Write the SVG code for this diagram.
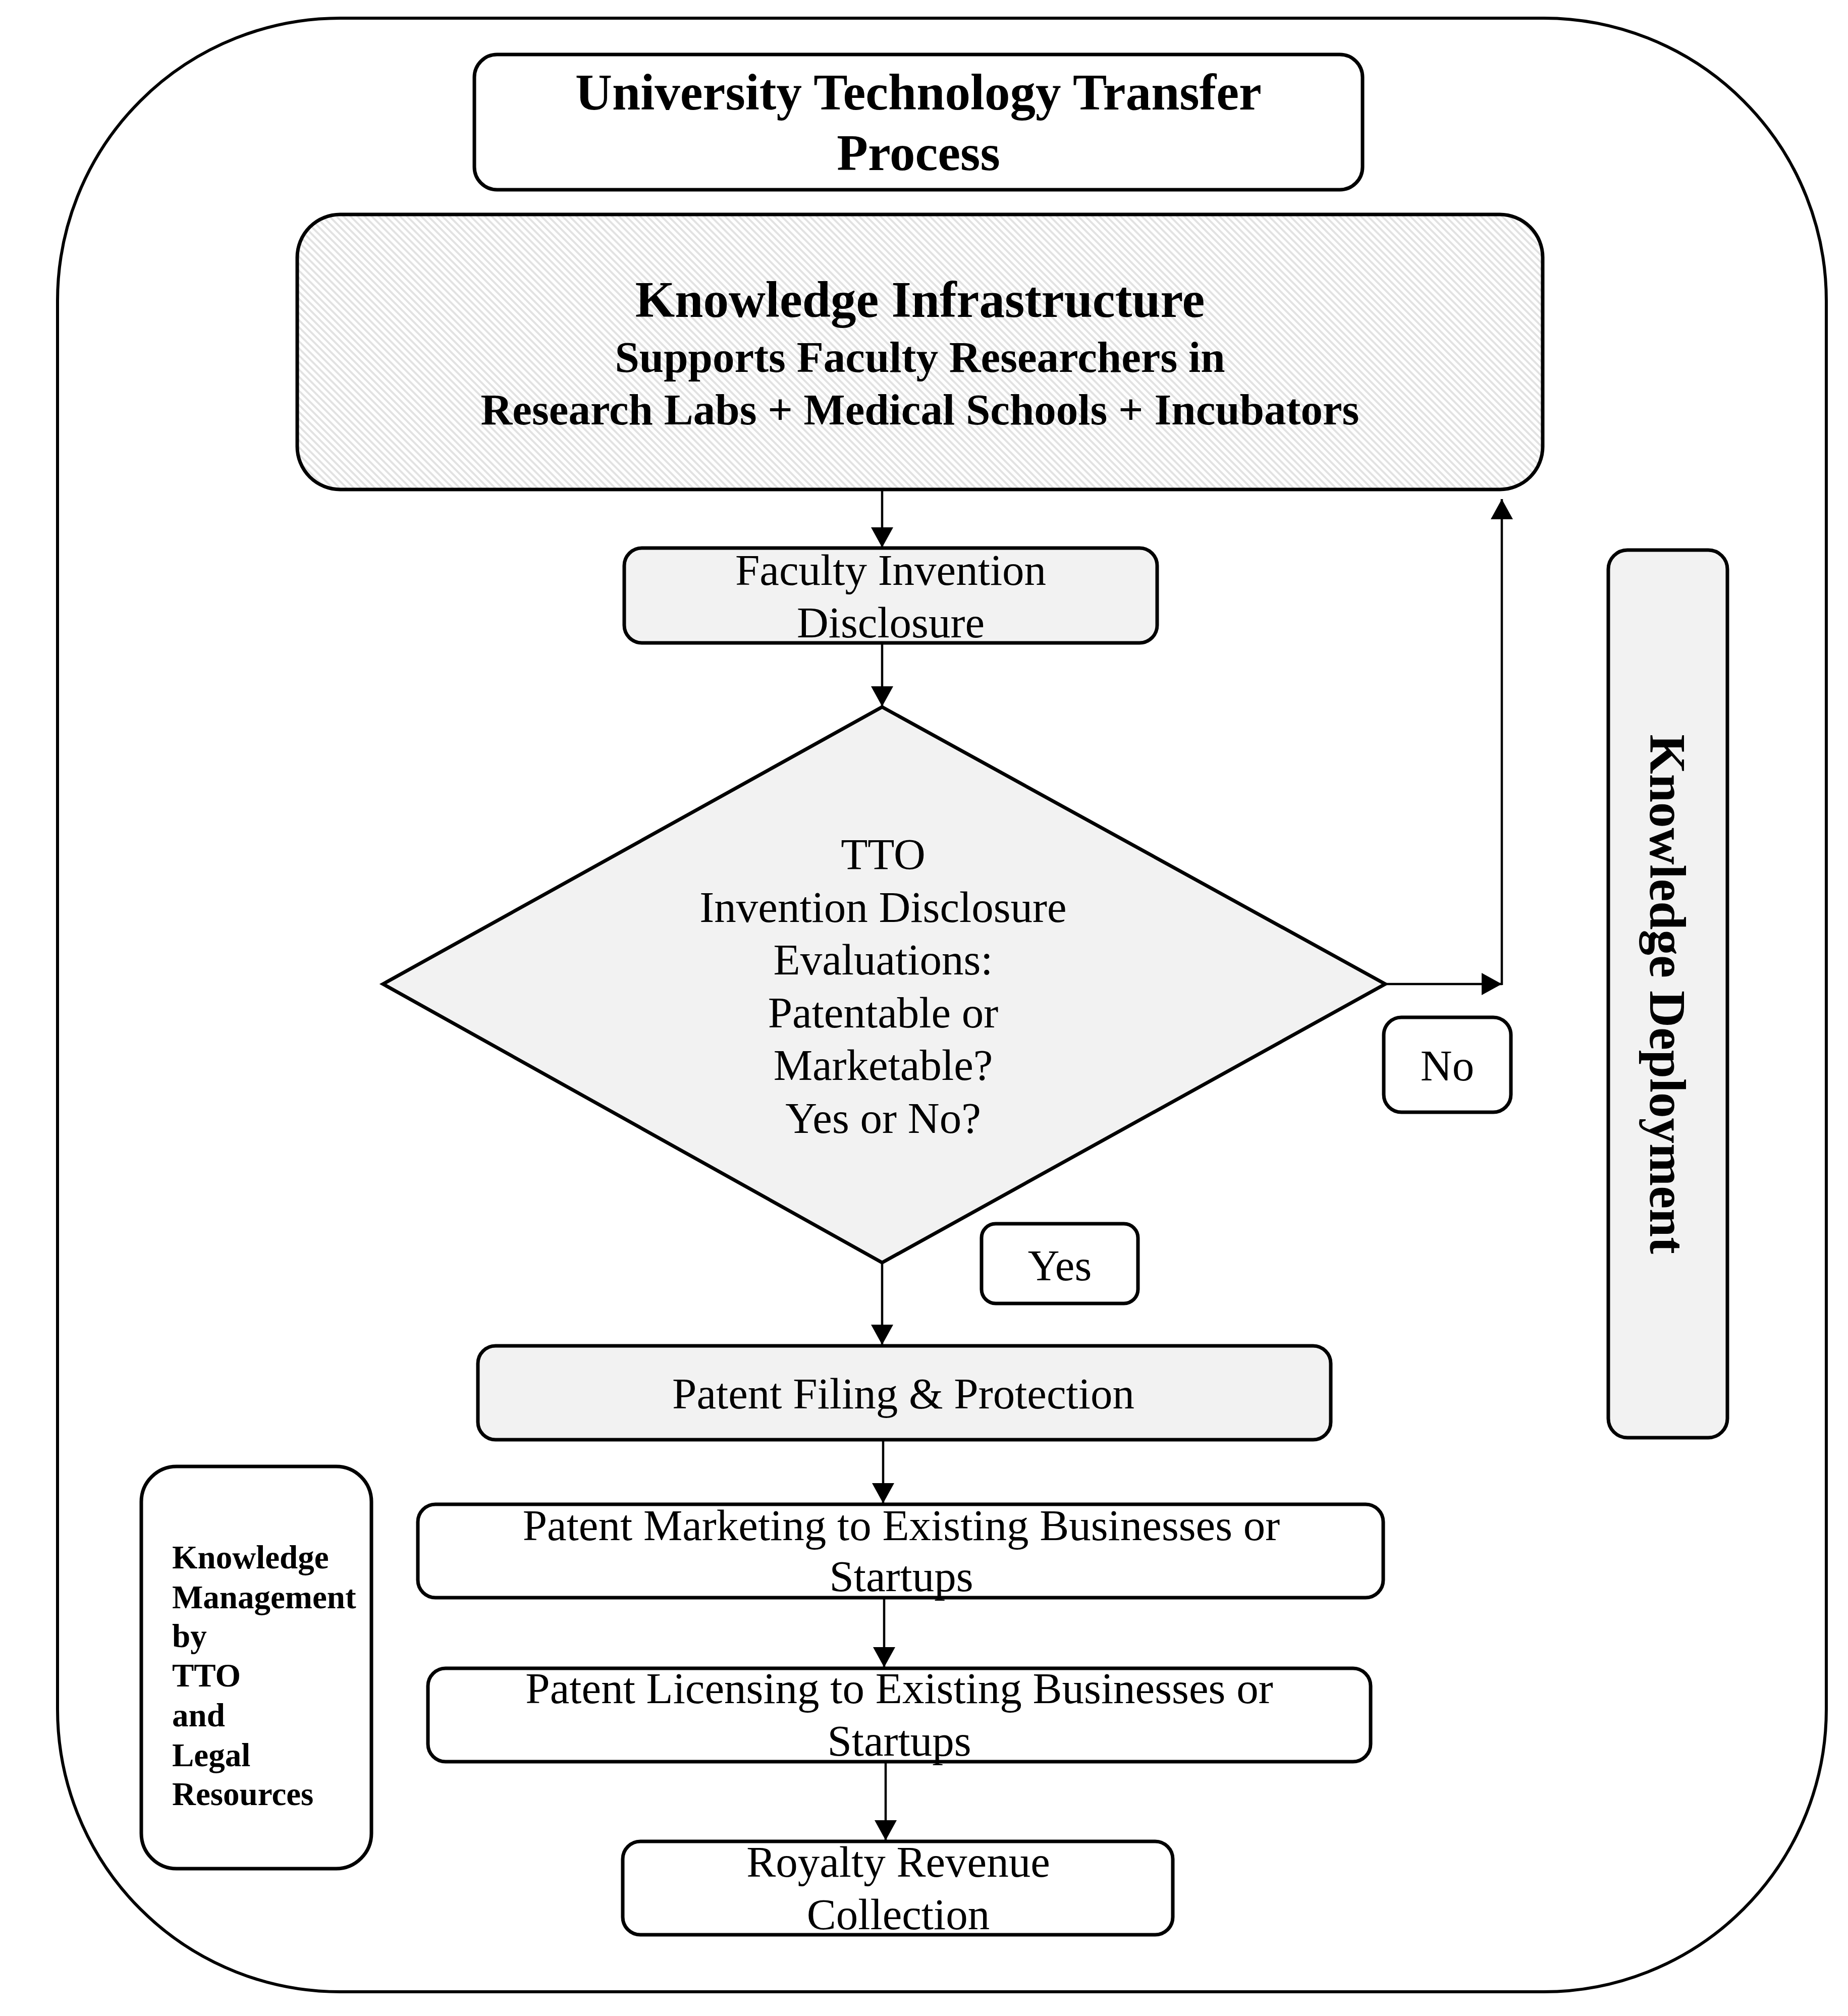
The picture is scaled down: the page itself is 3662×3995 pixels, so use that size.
<svg xmlns="http://www.w3.org/2000/svg" width="3662" height="3995" viewBox="0 0 3662 3995">
<defs>
<pattern id="hatch" width="14" height="14" patternUnits="userSpaceOnUse">
<rect width="14" height="14" fill="#ffffff"/>
<path d="M-3.5,-3.5 L17.5,17.5 M-3.5,10.5 L3.5,17.5 M10.5,-3.5 L17.5,3.5" stroke="#e2e2e2" stroke-width="4"/>
</pattern>
<marker id="ah" markerUnits="userSpaceOnUse" markerWidth="42" markerHeight="44" refX="40" refY="22" orient="auto">
<path d="M0,0 L40,22 L0,44 z" fill="#000"/>
</marker>
</defs>
<style>
.box{stroke:#000;stroke-width:7;}
.w{fill:#fff;}
.g{fill:#f2f2f2;}
.t{font-family:"Liberation Serif","Times New Roman",serif;fill:#000;text-anchor:middle;}
.r{font-size:87px;}
.b{font-weight:bold;}
.con{stroke:#000;stroke-width:4.5;fill:none;marker-end:url(#ah);}
</style>
<rect width="3662" height="3995" fill="#fff"/>
<g id="outer">
<rect x="114" y="36" width="3505" height="3911" rx="560" ry="560" fill="#fff" stroke="#000" stroke-width="6"/>
</g>
<g id="title">
<rect class="box w" x="940" y="108" width="1760" height="268" rx="45"/>
<text class="t b" x="1820" y="217" font-size="101">University Technology Transfer</text>
<text class="t b" x="1820" y="337" font-size="101">Process</text>
</g>
<g id="knowledge-infrastructure">
<rect class="box" x="589" y="425" width="2468" height="545" rx="85" fill="url(#hatch)"/>
<text class="t b" x="1823" y="628" font-size="101">Knowledge Infrastructure</text>
<text class="t b r" x="1823" y="737">Supports Faculty Researchers in</text>
<text class="t b r" x="1823" y="841">Research Labs + Medical Schools + Incubators</text>
</g>
<g id="faculty-disclosure">
<rect class="box g" x="1237" y="1086" width="1056" height="188" rx="35"/>
<text class="t r" x="1765" y="1159">Faculty Invention</text>
<text class="t r" x="1765" y="1263">Disclosure</text>
</g>
<g id="tto-evaluation">
<polygon class="box g" points="1748,1401 2745,1950 1748,2502 759,1950" stroke-width="8" stroke-linejoin="miter"/>
<text class="t r" x="1750" y="1722">TTO</text>
<text class="t r" x="1750" y="1827">Invention Disclosure</text>
<text class="t r" x="1750" y="1931">Evaluations:</text>
<text class="t r" x="1750" y="2036">Patentable or</text>
<text class="t r" x="1750" y="2140">Marketable?</text>
<text class="t r" x="1750" y="2245">Yes or No?</text>
</g>
<g id="no-label">
<rect class="box w" x="2742" y="2016" width="252" height="188" rx="35"/>
<text class="t r" x="2868" y="2141">No</text>
</g>
<g id="yes-label">
<rect class="box w" x="1945" y="2425" width="310" height="158" rx="28"/>
<text class="t r" x="2100" y="2537">Yes</text>
</g>
<g id="knowledge-deployment">
<rect class="box g" x="3187" y="1090" width="236" height="1759" rx="38"/>
<text class="t b" x="3270" y="1970" font-size="101" transform="rotate(90 3270 1970)">Knowledge Deployment</text>
</g>
<g id="patent-filing">
<rect class="box g" x="947" y="2667" width="1690" height="186" rx="35"/>
<text class="t r" x="1790" y="2791">Patent Filing &amp; Protection</text>
</g>
<g id="patent-marketing">
<rect class="box w" x="828" y="2981" width="1913" height="185" rx="35"/>
<text class="t r" x="1786" y="3052">Patent Marketing to Existing Businesses or</text>
<text class="t r" x="1786" y="3153">Startups</text>
</g>
<g id="patent-licensing">
<rect class="box w" x="848" y="3306" width="1868" height="185" rx="35"/>
<text class="t r" x="1782" y="3375">Patent Licensing to Existing Businesses or</text>
<text class="t r" x="1782" y="3479">Startups</text>
</g>
<g id="royalty">
<rect class="box w" x="1234" y="3649" width="1090" height="185" rx="35"/>
<text class="t r" x="1780" y="3719">Royalty Revenue</text>
<text class="t r" x="1780" y="3823">Collection</text>
</g>
<g id="knowledge-management">
<rect class="box w" x="280" y="2906" width="456" height="797" rx="70" stroke-width="8"/>
<g class="t b" font-size="65" style="text-anchor:start">
<text x="341" y="3108">Knowledge</text>
<text x="341" y="3187">Management</text>
<text x="341" y="3264">by</text>
<text x="341" y="3342">TTO</text>
<text x="341" y="3421">and</text>
<text x="341" y="3500">Legal</text>
<text x="341" y="3577">Resources</text>
</g>
</g>
<g id="connectors">
<line class="con" x1="1748" y1="972" x2="1748" y2="1085"/>
<line class="con" x1="1748" y1="1276" x2="1748" y2="1400"/>
<line class="con" x1="2745" y1="1950" x2="2976" y2="1950"/>
<line class="con" x1="2976" y1="1952" x2="2976" y2="989"/>
<line class="con" x1="1748" y1="2504" x2="1748" y2="2665"/>
<line class="con" x1="1750" y1="2855" x2="1750" y2="2979"/>
<line class="con" x1="1752" y1="3168" x2="1752" y2="3304"/>
<line class="con" x1="1755" y1="3493" x2="1755" y2="3647"/>
</g>
</svg>
